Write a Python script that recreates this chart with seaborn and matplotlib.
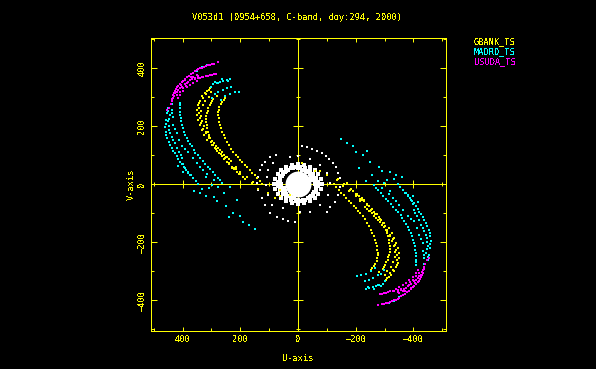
# UV coverage plot for V053d1
import matplotlib
matplotlib.use("Agg")
import matplotlib.pyplot as plt
import seaborn as sns

# (u, v), per station and per arm
gbank_left = [(305,329),(314,321),(323,312),(333,301),(339,287),(345,272),(349,255),(349,238),(345,220),(339,203),(334,186),(326,169),(314,151),(299,134),(284,119),(268,103),(253,88),(238,71),(222,54),(205,34),(184,17),(160,0),(137,-18),
              (300,315),(310,300),(322,285),(330,270),(335,252),(335,235),(332,215),(325,198),(318,180),(310,165),(298,148),(285,132),(270,116),(255,100),(240,85),
              (282,303),(293,291),(302,278),(311,260),(316,243),(319,223),(316,203),(312,180),(305,157),(293,134),(279,115),(264,96),(247,77),(230,60),(210,42),(189,25),
              (253,295),(264,283),(272,266),(276,246),(275,226),(270,203),(263,180),(253,157),(238,134),(224,111),(209,92),(193,75),(175,57),(158,39),(141,20),(126,0),
              (184,16),(161,2),(137,-16),(103,-32),(80,-49),(62,-43),(28,-38),(62,-20),(228,56),(216,52),(258,86),(250,92),
              (310,325),(318,308),(328,295),(342,280),(342,262),(343,245),(340,228),(335,210),(328,190),(320,175),(308,158),(292,140),(276,124),(262,110),(246,94),(232,78),(215,60),(200,42),(178,25),(155,8),
              (298,285),(306,270),(313,250),(318,233),(318,213),(314,192),(309,168),(300,145),(286,125),(272,105),(256,86),(238,68),(220,50),(200,33),
              (258,290),(268,275),(274,256),(276,236),(273,214),(267,192),(258,168),(245,145),(231,122),(216,101),(201,83),(184,66),(166,48),(149,30),(133,10)]
gbank_right = [(-305,-329),(-314,-321),(-323,-312),(-333,-301),(-339,-287),(-345,-272),(-349,-255),(-349,-238),(-345,-220),(-339,-203),(-334,-186),(-326,-169),(-314,-151),(-299,-134),(-284,-119),(-268,-103),(-253,-88),(-238,-71),(-222,-54),(-205,-34),(-184,-17),(-160,0),(-137,18),
               (-300,-315),(-310,-300),(-322,-285),(-330,-270),(-335,-252),(-335,-235),(-332,-215),(-325,-198),(-318,-180),(-310,-165),(-298,-148),(-285,-132),(-270,-116),(-255,-100),(-240,-85),
               (-282,-303),(-293,-291),(-302,-278),(-311,-260),(-316,-243),(-319,-223),(-316,-203),(-312,-180),(-305,-157),(-293,-134),(-279,-115),(-264,-96),(-247,-77),(-230,-60),(-210,-42),(-189,-25),
               (-253,-295),(-264,-283),(-272,-266),(-276,-246),(-275,-226),(-270,-203),(-263,-180),(-253,-157),(-238,-134),(-224,-111),(-209,-92),(-193,-75),(-175,-57),(-158,-39),(-141,-20),(-126,0),
               (-13,71),(-59,43),(-76,43),(-102,31),(-134,14),(-169,2),(-180,-20),(-203,-38),(-228,-56),(-216,-52),(-258,-86),(-250,-92),
               (-310,-325),(-318,-308),(-328,-295),(-342,-280),(-342,-262),(-343,-245),(-340,-228),(-335,-210),(-328,-190),(-320,-175),(-308,-158),(-292,-140),(-276,-124),(-262,-110),(-246,-94),(-232,-78),(-215,-60),(-200,-42),(-178,-25),(-155,-8),
               (-298,-285),(-306,-270),(-313,-250),(-318,-233),(-318,-213),(-314,-192),(-309,-168),(-300,-145),(-286,-125),(-272,-105),(-256,-86),(-238,-68),(-220,-50),(-200,-33),
               (-258,-290),(-268,-275),(-274,-256),(-276,-236),(-273,-214),(-267,-192),(-258,-168),(-245,-145),(-231,-122),(-216,-101),(-201,-83),(-184,-66),(-166,-48),(-149,-30),(-133,-10)]

madrd_left = [(235,361),(247,359),(259,356),(270,352),(282,349),(293,344),(302,335),(241,356),(264,360),(287,352),(276,346),
              (233,335),(247,329),(261,323),(276,315),(287,309),(299,295),
              (203,318),(218,315),(235,310),(253,301),(268,289),
              (316,410),(334,402),(351,390),
              (438,275),(449,260),(455,243),(458,220),(461,197),(458,180),(453,157),(443,134),(432,115),(420,96),(409,77),(395,57),(380,39),(363,20),(345,0),(334,-18),
              (443,237),(449,215),(446,186),(438,163),(426,140),(411,111),(403,88),(391,54),(374,31),
              (409,280),(409,260),(409,237),(405,215),(399,192),(391,169),(382,149),(368,129),(357,108),(339,88),(322,69),(305,51),(287,31),(270,14),
              (438,255),(432,232),(432,203),(420,174),(403,129),(380,111),(351,71),(328,48),(299,-3),(276,-9),(235,-9),(417,62),(400,40),(362,-25),(318,-40),(280,-60),(225,-100),(190,-130),(150,-155),
              (451,250),(459,208),(456,168),(448,145),(438,125),(426,105),(414,86),(402,67),(388,48),(372,30),(354,10),
              (447,225),(448,200),(442,175),(432,150),(418,125),(407,100),(397,70),(382,42),
              (409,270),(409,248),(407,226),(402,203),(395,180),(386,159),(375,139),(362,118),(348,98),(330,78),(313,60),(296,41),(278,22),
              (435,243),(426,188),(412,150),(392,120),(365,90),(340,60),(315,35),(290,15),(320,25),(255,-30),(290,-45),(250,-75),(200,-110),(170,-140),(340,-30),(310,-15),(265,5),(210,-55),(240,-115)]
madrd_right = [(-235,-361),(-247,-359),(-259,-356),(-270,-352),(-282,-349),(-293,-344),(-302,-335),(-241,-356),(-264,-360),(-287,-352),(-276,-346),
               (-233,-335),(-247,-329),(-261,-323),(-276,-315),(-287,-309),(-299,-295),
               (-203,-318),(-218,-315),(-235,-310),(-253,-301),(-268,-289),
               (-316,-410),(-334,-402),(-351,-390),
               (-438,-275),(-449,-260),(-455,-243),(-458,-220),(-461,-197),(-458,-180),(-453,-157),(-443,-134),(-432,-115),(-420,-96),(-409,-77),(-395,-57),(-380,-39),(-363,-20),(-345,0),(-334,18),
               (-443,-237),(-449,-215),(-446,-186),(-438,-163),(-426,-140),(-411,-111),(-403,-88),(-391,-54),(-374,-31),
               (-409,-280),(-409,-260),(-409,-237),(-405,-215),(-399,-192),(-391,-169),(-382,-149),(-368,-129),(-357,-108),(-339,-88),(-322,-69),(-305,-51),(-287,-31),(-270,-14),
               (-438,-255),(-432,-232),(-432,-203),(-420,-174),(-403,-129),(-380,-111),(-351,-71),(-328,-48),(-299,3),(-276,9),(-235,9),(-417,-62),(-400,-40),(-362,25),(-318,40),(-280,60),(-225,100),(-190,130),(-150,155),
               (-451,-250),(-459,-208),(-456,-168),(-448,-145),(-438,-125),(-426,-105),(-414,-86),(-402,-67),(-388,-48),(-372,-30),(-354,-10),
               (-447,-225),(-448,-200),(-442,-175),(-432,-150),(-418,-125),(-407,-100),(-397,-70),(-382,-42),
               (-409,-270),(-409,-248),(-407,-226),(-402,-203),(-395,-180),(-386,-159),(-375,-139),(-362,-118),(-348,-98),(-330,-78),(-313,-60),(-296,-41),(-278,-22),
               (-435,-243),(-426,-188),(-412,-150),(-392,-120),(-365,-90),(-340,-60),(-315,-35),(-290,-15),(-320,-25),(-255,30),(-290,45),(-250,75),(-200,110),(-170,140),(-340,30),(-310,15),(-265,-5),(-210,55),(-240,115)]

usuda_left = [(276,418),(291,414),(305,410),(319,406),(334,400),(345,395),(357,387),(371,377),(383,367),(397,356),(409,344),(418,333),(426,321),(434,306),(438,291),
              (284,379),(298,376),(313,373),(328,368),(339,363),(351,356),(363,349),(374,341),(386,332),(397,320),(409,306),(415,295),
              (334,369),(345,364),(363,369),(374,358),(386,346),(403,335),(415,324),(426,312),(351,375),(368,360),(391,358),(409,329),(420,306),(432,295),(453,255),
              (298,412),(312,408),(327,403),(340,398),(351,391),(364,382),(377,372),(390,361),(403,350),(414,338),(422,327),(430,313),(291,378),(305,374),(320,370),(345,372),(358,365),(380,352),(392,345),(398,330),(410,318),(420,318),(428,303),(436,285),(440,275),(447,262),(356,360),(372,368),(388,338),(405,340)]
usuda_right = [(-276,-418),(-291,-414),(-305,-410),(-319,-406),(-334,-400),(-345,-395),(-357,-387),(-371,-377),(-383,-367),(-397,-356),(-409,-344),(-418,-333),(-426,-321),(-434,-306),(-438,-291),
               (-284,-379),(-298,-376),(-313,-373),(-328,-368),(-339,-363),(-351,-356),(-363,-349),(-374,-341),(-386,-332),(-397,-320),(-409,-306),(-415,-295),
               (-334,-369),(-345,-364),(-363,-369),(-374,-358),(-386,-346),(-403,-335),(-415,-324),(-426,-312),(-351,-375),(-368,-360),(-391,-358),(-409,-329),(-420,-306),(-432,-295),(-453,-255),
               (-298,-412),(-312,-408),(-327,-403),(-340,-398),(-351,-391),(-364,-382),(-377,-372),(-390,-361),(-403,-350),(-414,-338),(-422,-327),(-430,-313),(-291,-378),(-305,-374),(-320,-370),(-345,-372),(-358,-365),(-380,-352),(-392,-345),(-398,-330),(-410,-318),(-420,-318),(-428,-303),(-436,-285),(-440,-275),(-447,-262),(-356,-360),(-372,-368),(-388,-338),(-405,-340)]

# short baselines in the middle
white_sparse = [(-13,129),(-30,126),(-50,121),(-67,115),(-82,106),(-96,97),(-109,85),(-122,71),(-132,58),(-140,39),(-146,20),
                (97,94),(76,100),(114,77),(126,66),(132,48),(137,25),(141,2),(137,-20),(126,-49),(114,-72),(97,-101),(74,-115),(51,-121),(34,-129),(10,-132),
                (-99,-95),(-111,-78),(-128,-61),(-140,-38),(-146,-9),
                (85,71),(103,48),(109,25),(111,-3),(103,-38),(91,-72),(28,92),(-1,97),(-42,85),(-76,66),(-99,37),(-111,2),(-105,-38),(-76,-72),(-42,-95),(-7,-95),(51,-84)]
white_ring = [(60,0),(62,15),(56,29),(46,40),(33,49),(17,55),(0,54),(-15,48),(-29,43),(-41,35),(-50,25),(-56,13),(-60,0),(-62,-15),(-56,-29),(-46,-40),(-33,-49),(-17,-55),(0,-54),(15,-48),(29,-43),(41,-35),(50,-25),(56,-13),
              (68,8),(63,22),(53,35),(40,46),(24,54),(8,58),(-8,58),(-24,54),(-40,46),(-53,35),(-63,22),(-68,8),(-68,-8),(-63,-22),(-53,-35),(-40,-46),(-24,-54),(-8,-58),(8,-58),(24,-54),(40,-46),(53,-35),(63,-22),(68,-8),
              (82,0),(79,17),(71,33),(58,47),(41,58),(21,65),(0,68),(-21,65),(-41,58),(-58,47),(-71,33),(-79,17),(-82,0),(-79,-17),(-71,-33),(-58,-47),(-41,-58),(-21,-65),(0,-68),(21,-65),(41,-58),(58,-47),(71,-33),(79,-17),
              (-45,25),(-30,42),(45,-25),(30,-42),(50,-15),(-50,15)]
white_core = [(0,0)]

u_ticks = [400, 200, 0, -200, -400]
v_ticks = [400, 200, 0, -200, -400]
u_minor = [500, 300, 100, -100, -300, -500]
v_minor = [500, 300, 100, -100, -300, -500]
stations = ["GBANK_TS", "MADRD_TS", "USUDA_TS"]
title = "V053d1 (0954+658, C-band, doy:294, 2000)"

yellow = "#ffff00"
cyan = "#00ffff"
magenta = "#ff00ff"

sns.set_theme(style="ticks", rc={
    "figure.facecolor": "black", "axes.facecolor": "black", "savefig.facecolor": "black",
    "axes.edgecolor": yellow, "axes.linewidth": 0.72, "text.color": yellow,
    "axes.labelcolor": yellow, "xtick.color": yellow, "ytick.color": yellow,
    "text.antialiased": False,
})
plt.rcParams["font.family"] = ["DejaVu Sans Mono"]

W, H = 596, 369
fig = plt.figure(figsize=(W / 100, H / 100), dpi=100)
ax = fig.add_axes([150.5 / W, 1 - 331 / H, 295 / W, 293.5 / H])


def draw(points, color, size, marker="s", zorder=3):
    us = [p[0] for p in points]
    vs = [p[1] for p in points]
    sns.scatterplot(x=us, y=vs, color=color, marker=marker, s=size, linewidth=0,
                    antialiased=False, zorder=zorder, ax=ax, legend=False)


# zero lines with their own ticks
ax.axhline(0, color=yellow, lw=0.72, antialiased=False, zorder=2)
ax.axvline(0, color=yellow, lw=0.72, antialiased=False, zorder=2)
ax.plot(u_ticks, [0] * len(u_ticks), ls="", marker="|", ms=6, mew=0.72, color=yellow, antialiased=False, zorder=2)
ax.plot(u_minor, [0] * len(u_minor), ls="", marker="|", ms=3.5, mew=0.72, color=yellow, antialiased=False, zorder=2)
ax.plot([0] * len(v_ticks), v_ticks, ls="", marker="_", ms=6.5, mew=0.72, color=yellow, antialiased=False, zorder=2)
ax.plot([0] * len(v_minor), v_minor, ls="", marker="_", ms=3.5, mew=0.72, color=yellow, antialiased=False, zorder=2)

draw(white_core, "white", 350, marker="o")
draw(white_ring, "white", 5.5)
draw(white_sparse, "white", 1.5)
draw(gbank_left + gbank_right, yellow, 1.3, zorder=4)
draw(madrd_left + madrd_right, cyan, 1.5, zorder=5)
draw(usuda_left + usuda_right, magenta, 1.5, zorder=6)

ax.set_xlim(511, -511)
ax.set_ylim(-506, 504)
ax.set_xticks(u_ticks)
ax.set_xticks(u_minor, minor=True)
ax.set_yticks(v_ticks)
ax.set_yticks(v_minor, minor=True)
ax.tick_params(axis="x", which="major", direction="in", top=True, length=3, width=0.72, labelsize=6.2, pad=3)
ax.tick_params(axis="y", which="major", direction="in", right=True, length=4.3, width=0.72, labelsize=6.2, pad=3)
ax.tick_params(axis="both", which="minor", direction="in", top=True, right=True, length=2, width=0.72)
plt.setp(ax.get_yticklabels(), rotation=90, va="center")
for side in ax.spines.values():
    side.set_antialiased(False)

ax.set_xlabel("U-axis", fontsize=6.2, labelpad=7)
ax.set_ylabel("V-axis", fontsize=6.2, labelpad=1)
fig.text(297.5 / W, 1 - 17 / H, title, fontsize=6.2, ha="center", va="center")

for name, color, y in zip(stations, [yellow, cyan, magenta], [41.5, 52, 62]):
    fig.text(474 / W, 1 - y / H, name, color=color, fontsize=6.2, ha="left", va="center")

fig.savefig("out.png", dpi=100)
